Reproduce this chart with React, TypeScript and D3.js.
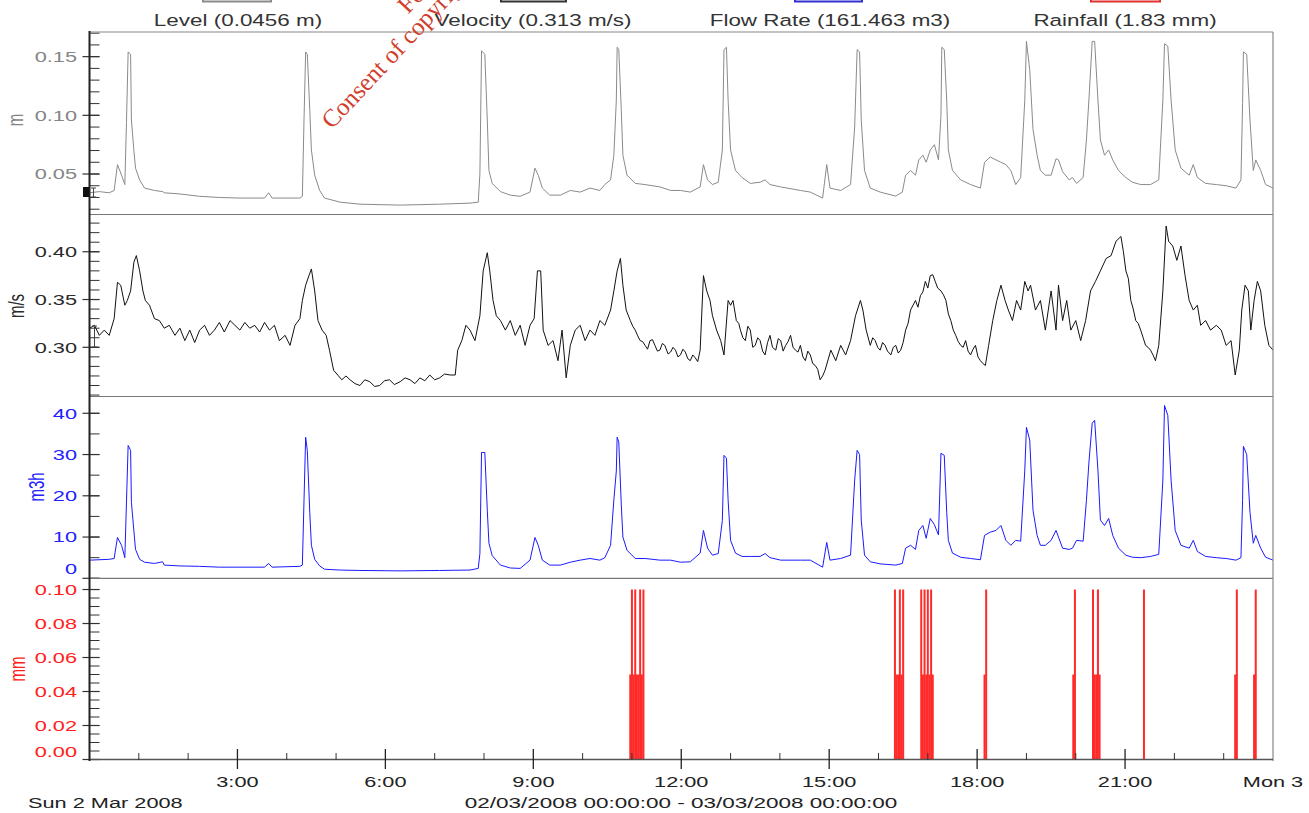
import React from "react";
import * as d3 from "d3";

const W = 1309;
const H = 813;
const X0 = 89.5;
const X1 = 1273;

// Level (m): [minute of day, value]
const levelData: [number, number][] = [
  [0, 0.034], [12, 0.035], [24, 0.034], [30, 0.036], [34, 0.058], [39, 0.049], [43, 0.041], [45, 0.094],
  [47, 0.154], [50, 0.152], [51, 0.096], [54, 0.07], [56, 0.055], [61, 0.045], [67, 0.038], [79, 0.036],
  [89, 0.035], [91, 0.034], [110, 0.033], [134, 0.031], [158, 0.030], [183, 0.0295], [213, 0.0295], [218, 0.034],
  [222, 0.0295], [256, 0.0295], [259, 0.031], [261, 0.096], [263, 0.154], [265, 0.152], [268, 0.105], [270, 0.0705],
  [274, 0.049], [280, 0.036], [286, 0.0295], [305, 0.026], [329, 0.0243], [378, 0.0235], [426, 0.0243], [463, 0.0252],
  [473, 0.026], [475, 0.05], [477, 0.155], [481, 0.152], [484, 0.096], [486, 0.053], [490, 0.042], [500, 0.035],
  [512, 0.032], [524, 0.031], [536, 0.0346], [542, 0.055], [546, 0.049], [551, 0.038], [560, 0.032], [573, 0.032],
  [585, 0.036], [597, 0.0346], [609, 0.038], [621, 0.036], [627, 0.041], [634, 0.045], [638, 0.066], [641, 0.113],
  [642, 0.158], [644, 0.156], [647, 0.105], [649, 0.066], [654, 0.049], [664, 0.042], [676, 0.041], [694, 0.039],
  [707, 0.036], [719, 0.036], [731, 0.0346], [743, 0.039], [747, 0.058], [752, 0.045], [758, 0.041], [765, 0.043],
  [770, 0.0705], [772, 0.156], [775, 0.158], [777, 0.113], [780, 0.0705], [786, 0.053], [794, 0.047], [804, 0.042],
  [816, 0.043], [822, 0.045], [828, 0.041], [841, 0.039], [865, 0.036], [877, 0.0346], [892, 0.0295], [897, 0.058],
  [901, 0.038], [914, 0.036], [926, 0.041], [931, 0.09], [934, 0.156], [937, 0.154], [939, 0.096], [943, 0.053],
  [950, 0.038], [962, 0.0346], [981, 0.0312], [989, 0.0346], [993, 0.049], [999, 0.053], [1005, 0.049], [1009, 0.062],
  [1014, 0.066], [1018, 0.060], [1023, 0.0705], [1028, 0.075], [1033, 0.062], [1036, 0.10], [1037, 0.158], [1040, 0.156],
  [1043, 0.113], [1045, 0.0705], [1050, 0.053], [1060, 0.045], [1072, 0.041], [1084, 0.038], [1089, 0.06], [1096, 0.0645],
  [1103, 0.062], [1109, 0.060], [1115, 0.058], [1121, 0.053], [1127, 0.041], [1133, 0.047], [1138, 0.113], [1140, 0.163],
  [1144, 0.139], [1148, 0.088], [1153, 0.066], [1157, 0.053], [1163, 0.049], [1170, 0.049], [1176, 0.063], [1179, 0.062],
  [1184, 0.052], [1192, 0.045], [1196, 0.047], [1201, 0.042], [1209, 0.047], [1213, 0.079], [1216, 0.113], [1220, 0.163],
  [1223, 0.163], [1227, 0.113], [1230, 0.079], [1235, 0.066], [1240, 0.0705], [1245, 0.062], [1252, 0.053], [1261, 0.047],
  [1269, 0.043], [1279, 0.041], [1291, 0.041], [1301, 0.045], [1306, 0.113], [1308, 0.161], [1312, 0.159], [1316, 0.113],
  [1321, 0.0705], [1328, 0.055], [1338, 0.049], [1343, 0.058], [1348, 0.047], [1358, 0.042], [1371, 0.041], [1383, 0.040],
  [1395, 0.038], [1401, 0.045], [1403, 0.11], [1404, 0.154], [1408, 0.152], [1412, 0.096], [1416, 0.053], [1419, 0.062],
  [1425, 0.053], [1431, 0.041], [1440, 0.038],
];

// Velocity (m/s): [minute of day, value]
const velocityData: [number, number][] = [
  [0, 0.320], [6, 0.323], [12, 0.3125], [18, 0.318], [24, 0.3125], [30, 0.330], [34, 0.368], [38, 0.365],
  [43, 0.344], [46, 0.349], [50, 0.359], [54, 0.389], [57, 0.396], [61, 0.380], [65, 0.359], [68, 0.349],
  [73, 0.344], [79, 0.330], [85, 0.328], [91, 0.320], [97, 0.323], [104, 0.3125], [110, 0.320], [116, 0.307],
  [122, 0.318], [128, 0.305], [134, 0.318], [140, 0.323], [146, 0.3125], [152, 0.318], [158, 0.326], [164, 0.316],
  [171, 0.328], [177, 0.323], [183, 0.318], [189, 0.326], [195, 0.320], [201, 0.323], [207, 0.316], [213, 0.326],
  [219, 0.318], [225, 0.323], [231, 0.307], [238, 0.3125], [244, 0.302], [250, 0.323], [256, 0.330], [259, 0.349],
  [263, 0.365], [267, 0.375], [270, 0.382], [274, 0.359], [278, 0.328], [283, 0.318], [288, 0.3125], [292, 0.297],
  [297, 0.276], [302, 0.271], [307, 0.266], [312, 0.270], [317, 0.266], [323, 0.262], [329, 0.260], [335, 0.266],
  [341, 0.264], [347, 0.259], [353, 0.260], [359, 0.265], [365, 0.266], [371, 0.261], [378, 0.264], [384, 0.268],
  [390, 0.266], [396, 0.262], [402, 0.268], [408, 0.265], [414, 0.271], [420, 0.266], [426, 0.268], [432, 0.272],
  [439, 0.271], [445, 0.271], [448, 0.297], [453, 0.307], [458, 0.323], [463, 0.318], [469, 0.307], [475, 0.333],
  [479, 0.380], [484, 0.399], [487, 0.380], [491, 0.349], [495, 0.333], [500, 0.328], [506, 0.318], [512, 0.328],
  [518, 0.3125], [524, 0.323], [530, 0.302], [536, 0.323], [541, 0.330], [545, 0.380], [549, 0.380], [552, 0.318],
  [558, 0.302], [564, 0.307], [570, 0.286], [575, 0.318], [580, 0.268], [585, 0.302], [591, 0.318], [597, 0.323],
  [603, 0.307], [609, 0.318], [615, 0.3125], [621, 0.328], [627, 0.323], [634, 0.339], [638, 0.359], [642, 0.380],
  [646, 0.393], [649, 0.365], [653, 0.339], [658, 0.328], [661, 0.322], [664, 0.318], [667, 0.312], [670, 0.307],
  [673, 0.306], [676, 0.302], [679, 0.298], [682, 0.307], [685, 0.308], [688, 0.302], [691, 0.296], [694, 0.297],
  [697, 0.304], [700, 0.302], [704, 0.293], [707, 0.295], [710, 0.300], [713, 0.297], [716, 0.290], [719, 0.292],
  [722, 0.298], [725, 0.295], [728, 0.288], [731, 0.286], [734, 0.292], [737, 0.289], [740, 0.285], [743, 0.297],
  [747, 0.375], [751, 0.359], [755, 0.349], [758, 0.333], [763, 0.318], [768, 0.307], [772, 0.292], [777, 0.349],
  [780, 0.344], [783, 0.349], [787, 0.328], [790, 0.325], [792, 0.318], [795, 0.310], [798, 0.307], [801, 0.322],
  [804, 0.318], [807, 0.300], [810, 0.302], [813, 0.310], [816, 0.307], [819, 0.296], [822, 0.292], [825, 0.305],
  [828, 0.3125], [831, 0.300], [835, 0.297], [838, 0.309], [841, 0.307], [844, 0.296], [847, 0.302], [850, 0.306],
  [853, 0.3125], [856, 0.300], [859, 0.297], [862, 0.295], [865, 0.302], [868, 0.290], [871, 0.286], [874, 0.296],
  [877, 0.292], [880, 0.283], [883, 0.281], [886, 0.277], [889, 0.266], [892, 0.270], [895, 0.276], [902, 0.297],
  [908, 0.286], [914, 0.302], [920, 0.292], [926, 0.307], [932, 0.333], [938, 0.349], [941, 0.339], [945, 0.318],
  [950, 0.302], [953, 0.310], [956, 0.307], [959, 0.300], [962, 0.297], [965, 0.305], [968, 0.302], [971, 0.296],
  [975, 0.292], [978, 0.300], [981, 0.302], [984, 0.294], [987, 0.297], [990, 0.305], [993, 0.318], [996, 0.325],
  [999, 0.339], [1005, 0.349], [1008, 0.342], [1011, 0.354], [1014, 0.358], [1017, 0.369], [1020, 0.362], [1023, 0.375],
  [1026, 0.376], [1029, 0.369], [1032, 0.362], [1036, 0.359], [1039, 0.355], [1042, 0.349], [1045, 0.335], [1048, 0.328],
  [1051, 0.318], [1054, 0.3125], [1057, 0.306], [1060, 0.302], [1063, 0.300], [1066, 0.307], [1069, 0.296], [1072, 0.292],
  [1075, 0.298], [1078, 0.302], [1081, 0.290], [1084, 0.286], [1087, 0.283], [1090, 0.281], [1094, 0.302], [1099, 0.328],
  [1104, 0.349], [1109, 0.365], [1114, 0.349], [1118, 0.339], [1123, 0.328], [1128, 0.349], [1133, 0.339], [1138, 0.369],
  [1142, 0.359], [1145, 0.365], [1151, 0.339], [1157, 0.349], [1163, 0.318], [1170, 0.359], [1176, 0.318], [1179, 0.365],
  [1184, 0.328], [1189, 0.349], [1194, 0.318], [1200, 0.328], [1206, 0.307], [1212, 0.328], [1218, 0.359], [1224, 0.369],
  [1230, 0.380], [1237, 0.393], [1243, 0.396], [1249, 0.411], [1255, 0.416], [1258, 0.400], [1261, 0.380], [1264, 0.372],
  [1267, 0.349], [1270, 0.340], [1273, 0.328], [1276, 0.325], [1279, 0.318], [1282, 0.310], [1285, 0.302], [1288, 0.300],
  [1291, 0.297], [1294, 0.292], [1297, 0.286], [1301, 0.302], [1306, 0.359], [1310, 0.427], [1313, 0.411], [1318, 0.406],
  [1323, 0.391], [1328, 0.406], [1333, 0.375], [1338, 0.349], [1343, 0.339], [1348, 0.344], [1352, 0.323], [1358, 0.328],
  [1364, 0.318], [1371, 0.323], [1377, 0.318], [1383, 0.302], [1389, 0.307], [1394, 0.271], [1399, 0.297], [1402, 0.339],
  [1406, 0.365], [1410, 0.359], [1413, 0.318], [1417, 0.349], [1421, 0.369], [1425, 0.359], [1430, 0.323], [1435, 0.302],
  [1440, 0.297],
];

// Flow rate (m3/h): [minute of day, value]
const flowData: [number, number][] = [
  [0, 4.4], [24, 4.6], [30, 4.8], [34, 9.9], [39, 8.0], [43, 5.0], [45, 18.5], [47, 32.2],
  [50, 31.0], [51, 18.4], [54, 11.5], [56, 7.0], [61, 4.6], [67, 3.9], [79, 3.6], [89, 4.0],
  [91, 3.2], [110, 3.0], [134, 2.9], [158, 2.7], [183, 2.7], [213, 2.7], [218, 3.6], [222, 2.7],
  [256, 2.9], [259, 3.2], [261, 18.9], [263, 34.2], [265, 31.0], [268, 16], [270, 8], [274, 4.6],
  [280, 3.0], [286, 2.2], [305, 2.0], [329, 1.9], [378, 1.8], [426, 1.9], [463, 2.0], [473, 2.4],
  [475, 6], [477, 30.5], [481, 30.5], [484, 16.5], [486, 8.5], [490, 5.5], [500, 3.2], [512, 2.5],
  [524, 2.4], [536, 4.4], [542, 9.9], [546, 8.0], [551, 4.4], [560, 3.2], [573, 3.2], [585, 3.9],
  [597, 4.4], [609, 4.8], [621, 4.4], [627, 5.0], [634, 8.0], [638, 19], [641, 26], [642, 34.2],
  [644, 33.0], [647, 18], [649, 10], [654, 6.8], [664, 4.8], [676, 4.8], [694, 4.4], [707, 4.4],
  [719, 3.9], [731, 4.0], [743, 6.1], [747, 11.6], [752, 7.3], [758, 5.6], [765, 6.0], [770, 14],
  [772, 29.8], [775, 29.1], [777, 19], [780, 9.2], [786, 6.1], [794, 5.3], [804, 5.3], [816, 5.3],
  [822, 6.0], [828, 5.0], [841, 4.4], [865, 4.4], [877, 4.4], [892, 2.7], [897, 8.7], [901, 4.4],
  [914, 4.8], [926, 5.6], [931, 23.8], [934, 31.0], [937, 30.0], [939, 14.1], [943, 5.6], [950, 4.0],
  [962, 3.5], [981, 3.2], [989, 3.6], [993, 7.3], [999, 8.0], [1005, 7.0], [1009, 11.6], [1014, 12.8],
  [1018, 9.7], [1023, 14.5], [1028, 13.0], [1033, 10.5], [1036, 30.3], [1040, 29.8], [1043, 16], [1045, 9.2],
  [1050, 6.1], [1060, 5.1], [1072, 4.8], [1084, 4.5], [1089, 10.4], [1096, 11.2], [1103, 11.6], [1109, 12.8],
  [1115, 9.2], [1121, 8.0], [1127, 9.2], [1133, 9.0], [1138, 26.2], [1140, 36.6], [1144, 33.5], [1148, 16.5],
  [1153, 10.4], [1157, 8.0], [1163, 8.0], [1170, 9.2], [1176, 11.6], [1179, 10.0], [1184, 7.3], [1192, 7.0],
  [1196, 7.3], [1201, 9.2], [1209, 9.0], [1213, 18.9], [1216, 28], [1220, 37.6], [1223, 38.3], [1227, 26.2],
  [1230, 14.1], [1235, 12.8], [1240, 14.5], [1245, 10.4], [1252, 7.3], [1261, 5.6], [1269, 5.1], [1279, 5.0],
  [1291, 5.3], [1301, 5.8], [1306, 23.8], [1308, 41.9], [1312, 39.5], [1316, 23.8], [1321, 11.6], [1328, 8.0],
  [1338, 7.3], [1343, 9.2], [1348, 6.5], [1358, 5.3], [1371, 5.0], [1383, 4.8], [1395, 4.4], [1401, 5.0],
  [1403, 18.9], [1404, 32.0], [1408, 30.0], [1412, 16], [1416, 8.5], [1419, 10.4], [1425, 7.3], [1431, 5.1],
  [1440, 4.4],
];

// Rainfall (mm) per 2-minute interval: [minute of day, value]
const rainData: [number, number][] = [
  [658, 0.05], [660, 0.1], [662, 0.05], [664, 0.1], [666, 0.05], [668, 0.05], [670, 0.1], [672, 0.05], [674, 0.1],
  [980, 0.1], [982, 0.05], [984, 0.05], [986, 0.1], [988, 0.05], [990, 0.1],
  [1012, 0.1], [1014, 0.05], [1016, 0.1], [1018, 0.05], [1020, 0.1], [1022, 0.05], [1024, 0.1], [1026, 0.05],
  [1089, 0.05], [1091, 0.1],
  [1197, 0.05], [1199, 0.1],
  [1221, 0.1], [1223, 0.05], [1225, 0.05], [1227, 0.1], [1229, 0.05],
  [1283, 0.1],
  [1394, 0.05], [1396, 0.1],
  [1417, 0.05], [1419, 0.1],
];

const hourTicks = [0, 3, 6, 9, 12, 15, 18, 21, 24];
const hourLabels = ["", "3:00", "6:00", "9:00", "12:00", "15:00", "18:00", "21:00", "Mon 3"];
const legendLabels = ["Level (0.0456 m)", "Velocity (0.313 m/s)", "Flow Rate (161.463 m3)", "Rainfall (1.83 mm)"];
const unitLabels = ["m", "m/s", "m3h", "mm"];
const levelTicks = [0.05, 0.1, 0.15];
const velocityTicks = [0.3, 0.35, 0.4];
const flowTicks = [0, 10, 20, 30, 40];
const rainTicks = [0, 0.02, 0.04, 0.06, 0.08, 0.1];
const periodLabel = "02/03/2008 00:00:00 - 03/03/2008 00:00:00";
const dateLabel = "Sun 2 Mar 2008";

const FONT = "'Liberation Sans', Arial, Helvetica, sans-serif";
const SX = 1.45;

type TProps = {
  x: number; y: number; size: number; sx?: number; anchor?: string; fill?: string;
  rot?: number; dy?: string; children: React.ReactNode;
};

// Text drawn with a horizontal glyph stretch
function T({ x, y, size, sx = SX, anchor = "middle", fill = "#333", rot, dy, children }: TProps) {
  const tf = `translate(${x},${y}) scale(${sx},1)` + (rot ? ` rotate(${rot})` : "");
  return (
    <text transform={tf} fontSize={size} textAnchor={anchor as any} fill={fill} dy={dy} fontFamily={FONT}>
      {children}
    </text>
  );
}

type Panel = {
  key: string;
  top: number;
  bottom: number;
  domain: [number, number];
  data: [number, number][];
  color: string;
  labelColor: string;
  minor: number[];
  major: number[];
  fmt: (v: number) => string;
  labelShift: (v: number) => number;
  unit: string;
  unitX: number;
  unitY: number;
  kind: "line" | "bar";
};

const x = d3.scaleLinear().domain([0, 1440]).range([X0, X1]);

export default function App() {
  const panels: Panel[] = [
    {
      key: "level", top: 32, bottom: 214.5, domain: [0.0155, 0.171], data: levelData,
      color: "#8a8a8a", labelColor: "#858585",
      minor: d3.range(2, 18).map((i) => i / 100), major: levelTicks,
      fmt: d3.format(".2f"), labelShift: () => 0, unit: unitLabels[0], unitX: 15, unitY: 120, kind: "line",
    },
    {
      key: "velocity", top: 214.5, bottom: 396.5, domain: [0.2485, 0.439], data: velocityData,
      color: "#111", labelColor: "#2a2a2a",
      minor: d3.range(25, 44).map((i) => i / 100), major: velocityTicks,
      fmt: d3.format(".2f"), labelShift: () => 0, unit: unitLabels[1], unitX: 16, unitY: 306, kind: "line",
    },
    {
      key: "flow", top: 396.5, bottom: 578.3, domain: [0, 44.07], data: flowData,
      color: "#1a1aff", labelColor: "#2222ff",
      minor: d3.range(0, 45, 5), major: flowTicks,
      fmt: d3.format("d"), labelShift: (v) => (v === 0 ? -10 : 0), unit: unitLabels[2], unitX: 36, unitY: 487, kind: "line",
    },
    {
      key: "rain", top: 578.3, bottom: 759.5, domain: [0, 0.1066], data: rainData,
      color: "#ff2a2a", labelColor: "#ff2020",
      minor: d3.range(0, 21).map((i) => i * 0.005), major: rainTicks,
      fmt: d3.format(".2f"), labelShift: (v) => (v === 0 ? -7.5 : 0), unit: unitLabels[3], unitX: 17, unitY: 669, kind: "bar",
    },
  ];

  const legendX = [238, 533, 830, 1125];
  const swatch = [
    { x: 203, w: 68, c: "#8a8a8a" },
    { x: 501, w: 65, c: "#333" },
    { x: 795, w: 67, c: "#3030d0" },
    { x: 1091, w: 69, c: "#e03030" },
  ];

  return (
    <svg
      width={W}
      height={H}
      viewBox={`0 0 ${W} ${H}`}
      style={{ position: "absolute", left: 0, top: 0, background: "#fff", display: "block" }}
    >
      <rect x={0} y={0} width={W} height={H} fill="#fff" />
      <defs>
        {panels.map((p) => (
          <clipPath id={`clip-${p.key}`} key={p.key}>
            <rect x={X0} y={p.top} width={X1 - X0} height={p.bottom - p.top} />
          </clipPath>
        ))}
      </defs>

      {/* legend */}
      {swatch.map((s, i) => (
        <rect key={`sw${i}`} x={s.x} y={-12} width={s.w} height={13.5} fill="none" stroke={s.c} strokeWidth={2} />
      ))}
      {legendLabels.map((t, i) => (
        <T key={`lg${i}`} x={legendX[i]} y={26} size={16.5} sx={1.36} fill="#333">{t}</T>
      ))}

      {panels.map((p) => {
        const y = d3.scaleLinear().domain(p.domain).range([p.bottom, p.top]);
        const line = d3.line<[number, number]>().x((d) => x(d[0])).y((d) => y(d[1]));
        return (
          <g key={p.key}>
            <g clipPath={`url(#clip-${p.key})`}>
              {p.kind === "line" ? (
                <path d={line(p.data) || ""} fill="none" stroke={p.color} strokeWidth={1} strokeLinejoin="round" />
              ) : (
                p.data.map((d, i) => (
                  <rect key={i} x={x(d[0]) - 1} y={y(d[1])} width={2} height={p.bottom - y(d[1])} fill={p.color} />
                ))
              )}
            </g>
            {/* y ticks */}
            {p.minor.map((v, i) => (
              <line key={`mi${i}`} x1={X0} x2={X0 + 10} y1={y(v)} y2={y(v)} stroke="#333" strokeWidth={1} />
            ))}
            {p.major.map((v, i) => (
              <g key={`ma${i}`}>
                <line x1={X0 - 7} x2={X0 + 10} y1={y(v)} y2={y(v)} stroke="#333" strokeWidth={1.2} />
                <T x={77} y={y(v) + p.labelShift(v)} size={15} anchor="end" fill={p.labelColor} dy="0.36em">
                  {p.fmt(v)}
                </T>
              </g>
            ))}
            <T x={p.unitX} y={p.unitY} size={15} rot={-90} fill={p.labelColor} dy="0.36em">{p.unit}</T>
          </g>
        );
      })}

      {/* frame */}
      <line x1={X0} x2={X1} y1={32} y2={32} stroke="#888" strokeWidth={1.2} />
      {panels.slice(1).map((p) => (
        <line key={`sep-${p.key}`} x1={X0} x2={X1} y1={p.top} y2={p.top} stroke="#777" strokeWidth={1.2} />
      ))}
      <line x1={X1} x2={X1} y1={32} y2={761} stroke="#888" strokeWidth={1.2} />
      <line x1={X0} x2={X1} y1={759.5} y2={759.5} stroke="#555" strokeWidth={1.4} />
      <line x1={X0} x2={X0} y1={31} y2={761} stroke="#222" strokeWidth={2} />

      {/* cursor markers */}
      <rect x={83} y={187} width={6} height={10} fill="#111" />
      <path d="M91,188 H96 M93.5,188 V197 M91,197 H96" stroke="#444" strokeWidth={1} fill="none" />
      <path d="M92,326 H97 M94.5,326 V347 M92,347 H97" stroke="#444" strokeWidth={1} fill="none" />

      {/* x axis */}
      {d3.range(1, 24).map((h) =>
        h % 3 === 0 ? (
          <line key={`xt${h}`} x1={x(h * 60)} x2={x(h * 60)} y1={749} y2={769} stroke="#222" strokeWidth={1.3} />
        ) : (
          <line key={`xt${h}`} x1={x(h * 60)} x2={x(h * 60)} y1={753} y2={760} stroke="#333" strokeWidth={1} />
        )
      )}
      {hourTicks.map((h, i) => (
        <T key={`xl${i}`} x={x(h * 60)} y={787} size={15} fill="#222">{hourLabels[i]}</T>
      ))}
      <T x={28} y={808} size={15} anchor="start" fill="#222">{dateLabel}</T>
      <T x={681} y={808} size={15} sx={1.5} fill="#222">{periodLabel}</T>

      {/* watermark */}
      <g transform="translate(332,130) rotate(-47)" fill="#d0402c" fontFamily="'Liberation Serif', 'Times New Roman', serif" fontSize={25}>
        <text x={0} y={0}>Consent of copyright owner required for any other use.</text>
        <text x={136} y={-23}>For inspection purposes only.</text>
      </g>
    </svg>
  );
}
